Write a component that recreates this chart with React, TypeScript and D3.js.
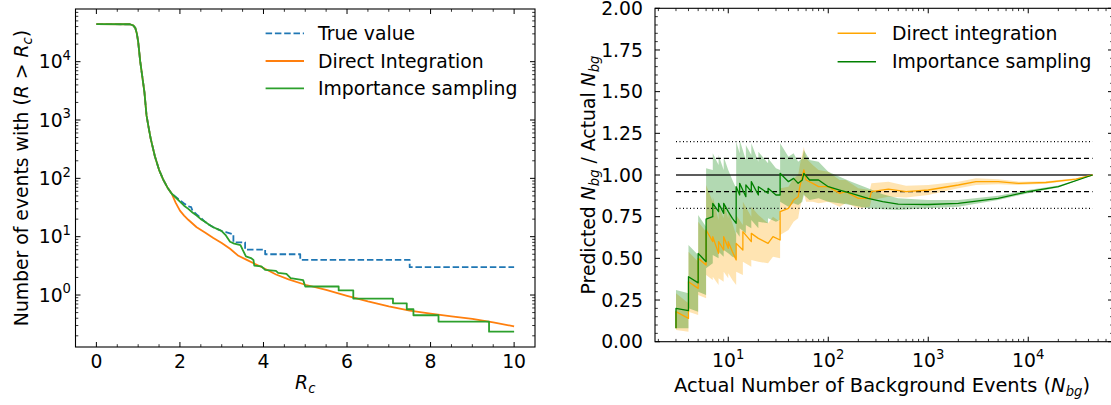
import React from 'react';
import * as d3 from 'd3';

const FONT = '"DejaVu Sans", sans-serif';
const FS = 18.8;
const SUB = 13.2;

// ---- left panel: cumulative number of events above threshold R_c ----
const headRc = [0, 0.8, 0.88, 0.93, 0.97, 1.0, 1.05, 1.1, 1.15, 1.2, 1.25, 1.3, 1.4, 1.5, 1.6, 1.7, 1.8];
const headN = [44000, 43800, 42000, 38000, 30000, 22000, 10000, 5500, 3000, 1200, 750, 480, 240, 140, 95, 70, 55];

const trueRc = [1.9, 2.0, 2.1, 2.2, 2.27, 2.3, 2.4, 2.5, 2.6, 2.7, 2.8, 2.9, 3.0, 3.1, 3.28, 3.28, 3.56, 3.56, 4.04, 4.04, 4.88, 4.88, 7.5, 7.5, 10];
const trueN = [48, 42, 37, 33, 32, 28, 24, 21, 18, 16, 14.5, 13.5, 12.5, 12, 11, 8, 8, 6, 6, 5, 5, 4, 4, 3, 3];

const directRc = [1.9, 2.0, 2.1, 2.2, 2.4, 2.6, 2.8, 3.0, 3.2, 3.4, 3.6, 3.8, 4.0, 4.3, 4.6, 5.0, 5.5, 6.0, 6.5, 7.0, 7.5, 8.0, 8.5, 9.0, 9.5, 10.0];
const directN = [38, 28, 23, 19.5, 14.5, 11.8, 9.5, 7.8, 6.2, 4.7, 4.0, 3.4, 2.9, 2.25, 1.85, 1.5, 1.22, 0.97, 0.78, 0.64, 0.54, 0.48, 0.43, 0.39, 0.34, 0.29];

const isRc = [1.9, 2.0, 2.1, 2.2, 2.3, 2.4, 2.5, 2.6, 2.7, 2.8, 2.9, 3.0, 3.1, 3.2, 3.3, 3.45, 3.5, 3.58, 3.7, 3.76, 3.78, 3.95, 4.04, 4.3, 4.35, 4.55, 4.65, 4.95, 5.0, 5.8, 5.8, 6.15, 6.15, 7.1, 7.1, 7.43, 7.43, 7.59, 7.59, 8.19, 8.19, 9.4, 9.4, 10];
const isN = [47, 40, 34, 30, 26, 23, 20, 18, 16, 14.5, 13.5, 12.5, 10.5, 8.2, 7.6, 7.2, 6.0, 4.6, 4.3, 4.0, 3.2, 3.1, 2.7, 2.6, 2.4, 2.3, 1.95, 1.8, 1.4, 1.4, 1.2, 1.2, 0.87, 0.87, 0.72, 0.72, 0.57, 0.57, 0.45, 0.45, 0.35, 0.35, 0.235, 0.235];

// ---- right panel: predicted / actual vs actual N_bg ----
const diN = [3, 3, 4, 4, 5, 5, 6, 6, 7, 7, 8, 8, 9, 9, 10, 10, 11, 12, 12, 14, 14, 17, 17, 20, 25, 28, 33, 33, 40, 45, 50, 52, 57, 60, 70, 80, 100, 130, 150, 200, 260, 270, 400, 600, 1000, 2000, 3000, 5000, 8000, 15000, 30000, 44000];
const diRatio = [0.08, 0.18, 0.14, 0.36, 0.32, 0.50, 0.46, 0.67, 0.60, 0.63, 0.53, 0.60, 0.55, 0.63, 0.56, 0.60, 0.54, 0.49, 0.59, 0.55, 0.66, 0.60, 0.65, 0.62, 0.59, 0.63, 0.61, 0.78, 0.80, 0.85, 0.87, 0.93, 1.03, 0.97, 0.95, 0.93, 0.93, 0.89, 0.90, 0.86, 0.86, 0.90, 0.915, 0.90, 0.91, 0.94, 0.96, 0.96, 0.95, 0.955, 0.975, 1.0];
const diLo = [0.03, 0.07, 0.06, 0.18, 0.16, 0.28, 0.26, 0.40, 0.37, 0.39, 0.34, 0.38, 0.36, 0.42, 0.38, 0.41, 0.37, 0.34, 0.42, 0.40, 0.48, 0.45, 0.49, 0.48, 0.47, 0.51, 0.50, 0.64, 0.67, 0.72, 0.74, 0.80, 0.89, 0.84, 0.84, 0.83, 0.84, 0.81, 0.83, 0.80, 0.81, 0.85, 0.87, 0.865, 0.88, 0.92, 0.94, 0.945, 0.94, 0.948, 0.97, 1.0];
const diHi = [0.13, 0.29, 0.23, 0.54, 0.48, 0.72, 0.66, 0.94, 0.84, 0.87, 0.73, 0.82, 0.74, 0.84, 0.74, 0.79, 0.71, 0.64, 0.76, 0.70, 0.84, 0.75, 0.81, 0.76, 0.71, 0.75, 0.72, 0.92, 0.93, 0.98, 1.00, 1.06, 1.17, 1.10, 1.06, 1.03, 1.02, 0.97, 0.97, 0.92, 0.91, 0.95, 0.96, 0.935, 0.94, 0.96, 0.98, 0.975, 0.96, 0.962, 0.98, 1.0];

const isBgN = [3, 3, 4, 4, 5, 5, 6, 6, 7, 7, 8, 8, 9, 9, 10, 11, 12, 12, 13, 13, 15, 15, 17, 17, 20, 20, 25, 25, 30, 33, 33, 40, 45, 50, 55, 57, 65, 80, 100, 130, 170, 250, 350, 500, 1000, 2000, 5000, 10000, 20000, 44000];
const isRatio = [0.08, 0.20, 0.186, 0.39, 0.353, 0.53, 0.48, 0.735, 0.75, 0.83, 0.78, 0.83, 0.77, 0.83, 0.78, 0.74, 0.71, 0.93, 0.88, 0.95, 0.87, 0.94, 0.90, 0.96, 0.88, 0.93, 0.89, 0.92, 0.88, 0.88, 1.01, 0.96, 0.98, 0.95, 0.97, 1.01, 0.97, 0.97, 0.93, 0.91, 0.89, 0.86, 0.84, 0.825, 0.823, 0.83, 0.86, 0.90, 0.93, 1.0];
const isLo = [0.03, 0.08, 0.08, 0.20, 0.18, 0.30, 0.28, 0.44, 0.47, 0.52, 0.50, 0.54, 0.51, 0.55, 0.53, 0.51, 0.50, 0.66, 0.63, 0.68, 0.65, 0.70, 0.68, 0.73, 0.68, 0.72, 0.71, 0.74, 0.72, 0.73, 0.84, 0.81, 0.83, 0.82, 0.84, 0.88, 0.85, 0.86, 0.84, 0.83, 0.82, 0.80, 0.795, 0.79, 0.80, 0.81, 0.85, 0.89, 0.925, 1.0];
const isHi = [0.13, 0.31, 0.29, 0.58, 0.52, 0.76, 0.69, 1.04, 1.03, 1.13, 1.06, 1.12, 1.03, 1.11, 1.03, 0.97, 0.92, 1.20, 1.13, 1.21, 1.09, 1.18, 1.12, 1.19, 1.08, 1.14, 1.07, 1.10, 1.04, 1.03, 1.19, 1.11, 1.13, 1.08, 1.10, 1.15, 1.09, 1.08, 1.02, 0.99, 0.96, 0.92, 0.885, 0.86, 0.85, 0.85, 0.875, 0.91, 0.937, 1.0];

const refLevels = [1.2, 1.1, 1.0, 0.9, 0.8];
const refDash = ['1,2.5', '5,3', '', '5,3', '1,2.5'];
const refRange = [3, 44000];

const leftXMajor = [0, 2, 4, 6, 8, 10];
const leftYMajor = [0, 1, 2, 3, 4];
const rightXMajor = [1, 2, 3, 4];
const rightYMajor = [0, 0.25, 0.5, 0.75, 1.0, 1.25, 1.5, 1.75, 2.0];

const zip = (xs: number[], ys: number[]) => xs.map((x, i) => [x, ys[i]] as [number, number]);

function Ticks({ xs, ys, x0, x1, y0, y1, major }: any) {
  const len = major ? 5 : 2.8;
  return (
    <g stroke="#000" strokeWidth={major ? 1 : 0.8}>
      {xs.map((x: number, i: number) => (
        <g key={'x' + i}>
          <line x1={x} x2={x} y1={y1} y2={y1 - len} />
          <line x1={x} x2={x} y1={y0} y2={y0 + len} />
        </g>
      ))}
      {ys.map((y: number, i: number) => (
        <g key={'y' + i}>
          <line x1={x0} x2={x0 + len} y1={y} y2={y} />
          <line x1={x1} x2={x1 - len} y1={y} y2={y} />
        </g>
      ))}
    </g>
  );
}

export default function App() {
  // left panel geometry
  const L = { x0: 75.5, x1: 535, y0: 9, y1: 347 };
  const xL = d3.scaleLinear().domain([-0.5, 10.5]).range([L.x0, L.x1]);
  const yL = d3.scaleLog().domain([Math.pow(10, -0.891), Math.pow(10, 4.903)]).range([L.y1, L.y0]);
  const lineL = d3.line<[number, number]>().x(d => xL(d[0])).y(d => yL(d[1]));

  const trueData = zip(headRc.concat(trueRc), headN.concat(trueN));
  const directData = zip(headRc.concat(directRc), headN.concat(directN));
  const isData = zip(headRc.concat(isRc), headN.concat(isN));

  const leftXMinor = d3.range(0.5, 10.5, 0.5).filter(v => v % 2 !== 0);
  const leftYMinor: number[] = [];
  for (let e = -1; e <= 4; e++) for (let k = 2; k <= 9; k++) {
    const v = k * Math.pow(10, e);
    if (v > yL.domain()[0] && v < yL.domain()[1]) leftYMinor.push(v);
  }

  // right panel geometry
  const R = { x0: 655, x1: 1113, y0: 8.3, y1: 341.7 };
  const xR = d3.scaleLog().domain([Math.pow(10, 0.2673), Math.pow(10, 4.8477)]).range([R.x0, R.x1]);
  const yR = d3.scaleLinear().domain([0, 2]).range([R.y1, R.y0]);
  const mkLine = (ns: number[], rs: number[]) =>
    d3.line<number>().x(i => xR(ns[i])).y(i => yR(rs[i]))(d3.range(ns.length)) || '';
  const mkArea = (ns: number[], lo: number[], hi: number[]) =>
    d3.area<number>().x(i => xR(ns[i])).y0(i => yR(lo[i])).y1(i => yR(hi[i]))(d3.range(ns.length)) || '';

  const rightXMinor: number[] = [];
  for (let e = 0; e <= 4; e++) for (let k = 2; k <= 9; k++) {
    const v = k * Math.pow(10, e);
    if (v > xR.domain()[0] && v < xR.domain()[1]) rightXMinor.push(v);
  }
  const rightYMinor = d3.range(0.05, 2.0, 0.05).filter(v => Math.abs(v / 0.25 - Math.round(v / 0.25)) > 1e-6);

  return (
    <svg width={1111} height={405} style={{ position: 'absolute', left: 0, top: 0, background: '#fff' }}
      fontFamily={FONT} fontSize={FS}>
      <defs>
        <clipPath id="clipL"><rect x={L.x0} y={L.y0} width={L.x1 - L.x0} height={L.y1 - L.y0} /></clipPath>
        <clipPath id="clipR"><rect x={R.x0} y={R.y0} width={R.x1 - R.x0} height={R.y1 - R.y0} /></clipPath>
      </defs>
      <rect x={0} y={0} width={1111} height={405} fill="#fff" />

      {/* ---------- left panel ---------- */}
      <g clipPath="url(#clipL)" fill="none" strokeLinejoin="round">
        <path d={lineL(trueData) || ''} stroke="#1f77b4" strokeWidth={1.8} strokeDasharray="6.5,2.8" />
        <path d={lineL(directData) || ''} stroke="#ff7f0e" strokeWidth={1.8} />
        <path d={lineL(isData) || ''} stroke="#2ca02c" strokeWidth={1.8} />
      </g>
      <rect x={L.x0} y={L.y0} width={L.x1 - L.x0} height={L.y1 - L.y0} fill="none" stroke="#000" strokeWidth={1.1} />
      <Ticks xs={leftXMajor.map(v => xL(v))} ys={leftYMajor.map(e => yL(Math.pow(10, e)))} {...L} major />
      <Ticks xs={leftXMinor.map(v => xL(v))} ys={leftYMinor.map(v => yL(v))} {...L} />
      {leftXMajor.map(v => (
        <text key={v} x={xL(v)} y={368} textAnchor="middle">{v}</text>
      ))}
      {leftYMajor.map(e => (
        <text key={e} x={71} y={yL(Math.pow(10, e)) + 6.8} textAnchor="end">
          10<tspan dy={-8.5} fontSize={SUB}>{e}</tspan>
        </text>
      ))}
      <text x={(L.x0 + L.x1) / 2} y={389} textAnchor="middle">
        <tspan fontStyle="italic">R</tspan><tspan fontStyle="italic" fontSize={SUB} dy={4}>c</tspan>
      </text>
      <text transform="translate(28,178) rotate(-90)" textAnchor="middle">
        Number of events with (<tspan fontStyle="italic">R</tspan> &gt; <tspan fontStyle="italic">R</tspan>
        <tspan fontStyle="italic" fontSize={SUB} dy={4}>c</tspan><tspan dy={-4}>)</tspan>
      </text>
      {/* legend left */}
      <g>
        <line x1={265.6} x2={304} y1={33.3} y2={33.3} stroke="#1f77b4" strokeWidth={1.8} strokeDasharray="6.5,2.8" />
        <text x={318} y={40}>True value</text>
        <line x1={265.6} x2={304} y1={61} y2={61} stroke="#ff7f0e" strokeWidth={1.8} />
        <text x={318} y={67.7}>Direct Integration</text>
        <line x1={265.6} x2={304} y1={88.3} y2={88.3} stroke="#2ca02c" strokeWidth={1.8} />
        <text x={318} y={95}>Importance sampling</text>
      </g>

      {/* ---------- right panel ---------- */}
      <g clipPath="url(#clipR)">
        <path d={mkArea(diN, diLo, diHi)} fill="orange" fillOpacity={0.3} stroke="none" />
        <path d={mkArea(isBgN, isLo, isHi)} fill="green" fillOpacity={0.3} stroke="none" />
        {refLevels.map((lv, i) => (
          <line key={lv} x1={xR(refRange[0])} x2={xR(refRange[1])} y1={yR(lv)} y2={yR(lv)}
            stroke="#000" strokeWidth={refDash[i] === '1,2.5' ? 1.1 : 1.3}
            strokeDasharray={refDash[i] || undefined} opacity={i === 2 ? 0.85 : 1} />
        ))}
        <path d={mkLine(diN, diRatio)} fill="none" stroke="orange" strokeWidth={1.3} strokeLinejoin="round" />
        <path d={mkLine(isBgN, isRatio)} fill="none" stroke="green" strokeWidth={1.3} strokeLinejoin="round" />
      </g>
      <rect x={R.x0} y={R.y0} width={R.x1 - R.x0} height={R.y1 - R.y0} fill="none" stroke="#000" strokeWidth={1.1} />
      <Ticks xs={rightXMajor.map(e => xR(Math.pow(10, e)))} ys={rightYMajor.map(v => yR(v))} {...R} major />
      <Ticks xs={rightXMinor.map(v => xR(v))} ys={rightYMinor.map(v => yR(v))} {...R} />
      {rightXMajor.map(e => (
        <text key={e} x={xR(Math.pow(10, e))} y={367} textAnchor="middle">
          10<tspan dy={-8.5} fontSize={SUB}>{e}</tspan>
        </text>
      ))}
      {rightYMajor.map(v => (
        <text key={v} x={643} y={yR(v) + 6.6} textAnchor="end">{v.toFixed(2)}</text>
      ))}
      <text x={(R.x0 + 1109) / 2} y={392} textAnchor="middle" fontSize={19.4}>
        Actual Number of Background Events (<tspan fontStyle="italic">N</tspan>
        <tspan fontStyle="italic" fontSize={SUB} dy={4}>bg</tspan><tspan dy={-4}>)</tspan>
      </text>
      <text transform="translate(595,175) rotate(-90)" textAnchor="middle">
        Predicted <tspan fontStyle="italic">N</tspan><tspan fontStyle="italic" fontSize={SUB} dy={4}>bg</tspan>
        <tspan dy={-4}> / Actual </tspan><tspan fontStyle="italic">N</tspan>
        <tspan fontStyle="italic" fontSize={SUB} dy={4}>bg</tspan>
      </text>
      {/* legend right */}
      <g>
        <line x1={837.6} x2={876} y1={33.3} y2={33.3} stroke="orange" strokeWidth={1.5} />
        <text x={892} y={40}>Direct integration</text>
        <line x1={837.6} x2={876} y1={61.7} y2={61.7} stroke="green" strokeWidth={1.5} />
        <text x={892} y={68.4}>Importance sampling</text>
      </g>
    </svg>
  );
}
